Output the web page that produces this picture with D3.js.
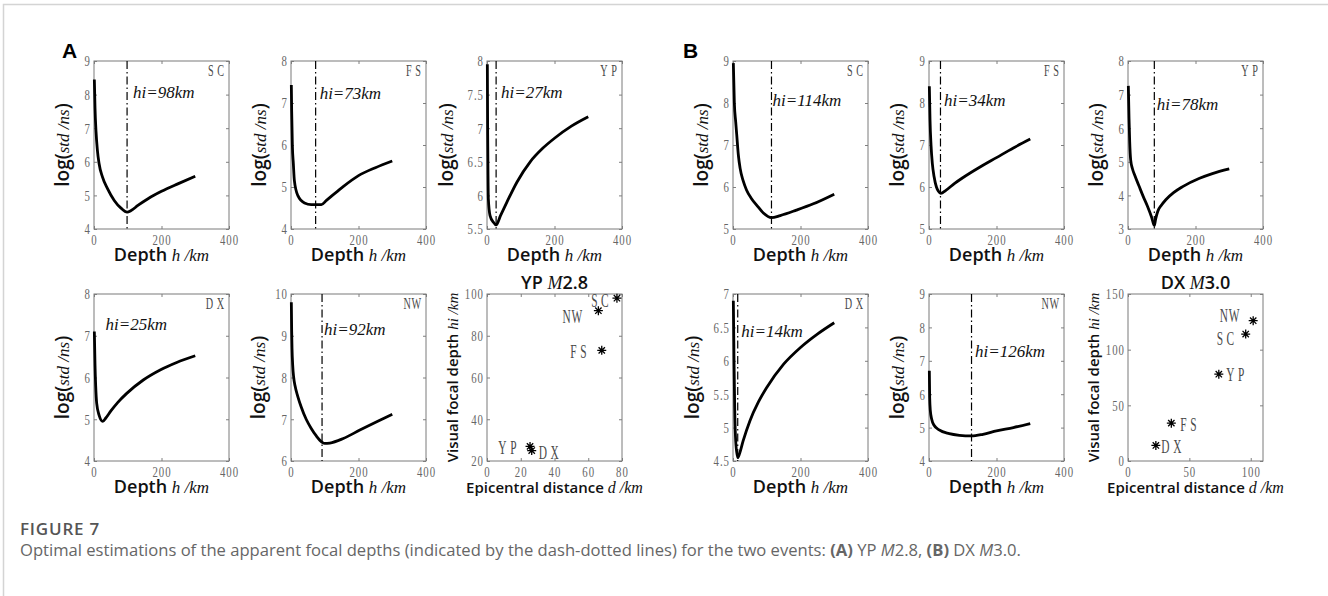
<!DOCTYPE html>
<html>
<head>
<meta charset="utf-8">
<script src="https://cdn.jsdelivr.net/npm/d3@7"></script>
<style>
  body { margin: 0; background: #fff; }
  .axis line { stroke: #808080; }
  .sans { font-family: "Open Sans", sans-serif; font-weight: 600; fill: #111; }
  .ital { font-family: "Liberation Serif", serif; font-style: italic; font-weight: 400; fill: #111; }
  .stn { font-family: "Liberation Serif", serif; fill: #4a4a4a; }
</style>
</head>
<body>
<svg id="fig" width="1328" height="596"></svg>
<script>
// ---- values ----
const stations = ["SC", "FS", "YP", "DX", "NW"];
const depthTicks = [0, 200, 400];

// event A (YP M2.8): log(std/ns) against trial depth h (km)
const depthA_SC = [1, 3, 6, 10, 15, 25, 40, 60, 80, 98, 110, 130, 160, 200, 250, 300];
const logA_SC   = [8.45, 7.6, 6.9, 6.35, 5.95, 5.55, 5.2, 4.85, 4.62, 4.5, 4.55, 4.7, 4.9, 5.12, 5.35, 5.57];
const depthA_FS = [1, 2, 4, 7, 10, 20, 40, 60, 90, 105, 150, 200, 250, 300];
const logA_FS   = [7.43, 6.8, 6.0, 5.55, 5.15, 4.8, 4.62, 4.58, 4.58, 4.68, 4.98, 5.27, 5.46, 5.62];
const depthA_YP = [1, 2, 3, 4, 9, 19, 27, 40, 59, 89, 128, 165, 200, 250, 300];
const logA_YP   = [7.95, 6.9, 6.3, 5.95, 5.7, 5.6, 5.56, 5.7, 5.9, 6.2, 6.5, 6.7, 6.85, 7.03, 7.17];
const depthA_DX = [1, 3, 5, 8, 15, 26, 35, 50, 70, 97, 146, 196, 245, 300];
const logA_DX   = [7.1, 6.3, 5.8, 5.38, 5.1, 4.95, 5.03, 5.2, 5.4, 5.62, 5.94, 6.18, 6.36, 6.52];
const depthA_NW = [1, 2, 3, 5, 8, 12, 20, 30, 45, 60, 75, 92, 100, 115, 155, 204, 254, 300];
const logA_NW   = [9.8, 9.1, 8.7, 8.3, 8.0, 7.8, 7.55, 7.3, 7.0, 6.78, 6.6, 6.45, 6.42, 6.43, 6.54, 6.74, 6.94, 7.12];

const hiA = [98, 73, 27, 25, 92];          // apparent focal depth per station
const distA = [77, 68, 25.5, 26.5, 66];    // epicentral distance per station
const labelDistA = [66.9, 54.2, 12.1, 36.6, 50.6];
const labelHiA = [96.8, 72.5, 26.5, 24.1, 89.4];

// event B (DX M3.0)
const depthB_SC = [1, 4, 8, 11, 16, 21, 30, 40, 55, 70, 90, 114, 140, 188, 238, 300];
const logB_SC   = [8.95, 8.0, 7.55, 7.25, 6.75, 6.45, 6.15, 5.93, 5.72, 5.57, 5.38, 5.27, 5.32, 5.45, 5.6, 5.83];
const depthB_FS = [1, 3, 6, 10, 15, 22, 28, 35, 50, 75, 100, 150, 200, 250, 300];
const logB_FS   = [8.4, 7.6, 7.0, 6.55, 6.25, 6.0, 5.9, 5.85, 5.92, 6.08, 6.22, 6.47, 6.7, 6.93, 7.14];
const depthB_YP = [1, 3, 5, 8, 13, 20, 33, 45, 58, 70, 78, 82, 88, 100, 112, 135, 162, 212, 250, 300];
const logB_YP   = [7.26, 6.3, 5.6, 5.05, 4.8, 4.6, 4.27, 3.97, 3.67, 3.35, 3.1, 3.3, 3.52, 3.72, 3.87, 4.08, 4.26, 4.51, 4.65, 4.79];
const depthB_DX = [1, 3, 5, 8, 14, 20, 30, 50, 75, 100, 150, 200, 250, 300];
const logB_DX   = [6.9, 6.0, 5.3, 4.8, 4.55, 4.62, 4.8, 5.1, 5.38, 5.6, 5.95, 6.2, 6.4, 6.57];
const depthB_NW = [1, 2, 4, 8, 15, 30, 60, 90, 126, 160, 200, 250, 300];
const logB_NW   = [6.7, 5.9, 5.5, 5.25, 5.07, 4.93, 4.82, 4.77, 4.75, 4.8, 4.9, 5.0, 5.12];

const hiB = [114, 34, 78, 14, 126];
const distB = [95.9, 35.3, 74, 22.7, 102];
const labelDistB = [79.4, 49.2, 87.4, 35.3, 82.8];
const labelHiB = [109.8, 33, 77.7, 13.2, 130.4];

// y tick labels of each panel
const yTicksA_SC = [4, 5, 6, 7, 8, 9];
const yTicksA_FS = [4, 5, 6, 7, 8];
const yTicksA_YP = [5.5, 6, 6.5, 7, 7.5, 8];
const yTicksA_DX = [4, 5, 6, 7, 8];
const yTicksA_NW = [6, 7, 8, 9, 10];
const yTicksB_SC = [5, 6, 7, 8, 9];
const yTicksB_FS = [5, 6, 7, 8, 9];
const yTicksB_YP = [3, 4, 5, 6, 7, 8];
const yTicksB_DX = [4.5, 5, 5.5, 6, 6.5, 7];
const yTicksB_NW = [4, 5, 6, 7, 8, 9];

const distTicksA = [0, 20, 40, 60, 80];
const focalTicksA = [20, 40, 60, 80, 100];
const distTicksB = [0, 50, 100];
const focalTicksB = [0, 50, 100, 150];

// ---- layout ----
const svg = d3.select("#fig");
const W = 135;
const SQUEEZE = 0.72;   // the original tick font is a condensed serif

const curvePanels = [
  { left: 94,  top: 61,  h: 168, st: 0, depth: depthA_SC, logv: logA_SC, hi: hiA[0], yt: yTicksA_SC, dx: 6, dy: 37, yl: -25, line: true },
  { left: 291, top: 61,  h: 168, st: 1, depth: depthA_FS, logv: logA_FS, hi: hiA[1], yt: yTicksA_FS, dx: 4, dy: 38, yl: -25, line: true },
  { left: 487, top: 61,  h: 168, st: 2, depth: depthA_YP, logv: logA_YP, hi: hiA[2], yt: yTicksA_YP, dx: 5, dy: 37, yl: -34, line: true },
  { left: 94,  top: 294, h: 167, st: 3, depth: depthA_DX, logv: logA_DX, hi: hiA[3], yt: yTicksA_DX, dx: 3, dy: 36, yl: -25, line: false },
  { left: 291, top: 294, h: 167, st: 4, depth: depthA_NW, logv: logA_NW, hi: hiA[4], yt: yTicksA_NW, dx: 2, dy: 41, yl: -26, line: true },
  { left: 733, top: 61,  h: 168, st: 0, depth: depthB_SC, logv: logB_SC, hi: hiB[0], yt: yTicksB_SC, dx: 1, dy: 45, yl: -25, line: true },
  { left: 929, top: 61,  h: 168, st: 1, depth: depthB_FS, logv: logB_FS, hi: hiB[1], yt: yTicksB_FS, dx: 3.5, dy: 45, yl: -25, line: true },
  { left: 1128, top: 61, h: 168, st: 2, depth: depthB_YP, logv: logB_YP, hi: hiB[2], yt: yTicksB_YP, dx: 2.5, dy: 49, yl: -25, line: true },
  { left: 733, top: 294, h: 167, st: 3, depth: depthB_DX, logv: logB_DX, hi: hiB[3], yt: yTicksB_DX, dx: 3.5, dy: 43, yl: -34, line: true },
  { left: 929, top: 294, h: 167, st: 4, depth: depthB_NW, logv: logB_NW, hi: hiB[4], yt: yTicksB_NW, dx: 3.5, dy: 63, yl: -25, line: true }
];

const scatterPanels = [
  { left: 487, top: 294, h: 167, title: ["YP ", "M", "2.8"], dist: distA, hi: hiA, lx: labelDistA, ly: labelHiA,
    xDomain: [0, 80], yDomain: [20, 100], xt: distTicksA, yt: focalTicksA },
  { left: 1128, top: 294, h: 167, title: ["DX ", "M", "3.0"], dist: distB, hi: hiB, lx: labelDistB, ly: labelHiB,
    xDomain: [0, 110], yDomain: [0, 150], xt: distTicksB, yt: focalTicksB }
];

// tick numbers: grey condensed serif, squeezed about their anchor point
function narrow(sel) {
  sel.each(function () {
    const t = d3.select(this);
    const x0 = +t.attr("x") || 0;
    t.attr("x", x0 / SQUEEZE).attr("transform", `scale(${SQUEEZE},1)`)
      .attr("fill", "#666")
      .style("font-family", "'Liberation Serif', serif")
      .style("font-size", "15px")
      .style("letter-spacing", "1.4px");
  });
}

function drawFrame(g, x, y, w, h, xt, yt) {
  const fmt = d => String(d);
  g.append("g").attr("class", "axis").attr("transform", `translate(0,${h})`)
    .call(d3.axisBottom(x).tickValues(xt).tickSizeInner(-3).tickSizeOuter(0).tickPadding(5).tickFormat(fmt));
  g.append("g").attr("class", "axis")
    .call(d3.axisLeft(y).tickValues(yt).tickSizeInner(-3).tickSizeOuter(0).tickPadding(3).tickFormat(fmt));
  g.append("g").attr("class", "axis")
    .call(d3.axisTop(x).tickValues(xt).tickSizeInner(-3).tickSizeOuter(0).tickFormat(""));
  g.append("g").attr("class", "axis").attr("transform", `translate(${w},0)`)
    .call(d3.axisRight(y).tickValues(yt).tickSizeInner(-3).tickSizeOuter(0).tickFormat(""));
  g.selectAll(".domain").remove();
  narrow(g.selectAll(".tick text"));
  g.append("rect").attr("width", w).attr("height", h)
    .attr("fill", "none").attr("stroke", "#7a7a7a").attr("stroke-width", 1);
}

function addLabel(g, x, y, parts, rotate) {
  const t = g.append("text").attr("text-anchor", "middle");
  if (rotate) t.attr("transform", `translate(${x},${y}) rotate(-90)`);
  else t.attr("x", x).attr("y", y);
  parts.forEach(p => t.append("tspan").attr("class", p[1]).style("font-size", p[2] + "px").text(p[0]));
  return t;
}

// station code drawn narrow and letter-spaced
function stationText(g, x, y, name, size, anchor) {
  return g.append("text").attr("class", "stn")
    .attr("transform", `translate(${x},${y}) scale(0.6,1)`)
    .attr("text-anchor", anchor)
    .style("font-size", size + "px")
    .style("letter-spacing", name === "NW" ? "1px" : "6px")
    .text(name);
}

function drawCurvePanel(p) {
  const x = d3.scaleLinear().domain([0, 400]).range([0, W]);
  const y = d3.scaleLinear().domain(d3.extent(p.yt)).range([p.h, 0]);
  const g = svg.append("g").attr("transform", `translate(${p.left},${p.top})`);

  drawFrame(g, x, y, W, p.h, depthTicks, p.yt);

  if (p.line) {
    g.append("line")
      .attr("x1", x(p.hi)).attr("x2", x(p.hi))
      .attr("y1", 0).attr("y2", p.h)
      .attr("stroke", "#000").attr("stroke-width", 1.2)
      .attr("stroke-dasharray", "8,3,1.5,3");
  }

  const line = d3.line().x(d => x(d[0])).y(d => y(d[1])).curve(d3.curveMonotoneX);
  g.append("path")
    .datum(d3.zip(p.depth, p.logv))
    .attr("d", line)
    .attr("fill", "none").attr("stroke", "#000").attr("stroke-width", 2.8);

  g.append("text").attr("class", "ital")
    .attr("x", x(p.hi) + p.dx).attr("y", p.dy)
    .style("font-size", "17px")
    .text(`hi=${p.hi}km`);

  stationText(g, W - 5 + (stations[p.st] === "NW" ? 0.6 : 3.6), 15, stations[p.st], 17, "end");

  addLabel(g, W / 2, p.h + 32, [["Depth ", "sans", 18], ["h /km", "ital", 17]]);
  addLabel(g, p.yl, p.h / 2, [["log(", "sans", 19], ["std /ns", "ital", 17], [")", "sans", 19]], true);
}

// MATLAB-like '*' marker: plus and cross together
const starSymbol = {
  draw(ctx, size) {
    const r = Math.sqrt(size) / 2, q = r * 0.7071;
    ctx.moveTo(-r, 0); ctx.lineTo(r, 0);
    ctx.moveTo(0, -r); ctx.lineTo(0, r);
    ctx.moveTo(-q, -q); ctx.lineTo(q, q);
    ctx.moveTo(-q, q); ctx.lineTo(q, -q);
  }
};

function drawScatterPanel(p) {
  const x = d3.scaleLinear().domain(p.xDomain).range([0, W]);
  const y = d3.scaleLinear().domain(p.yDomain).range([p.h, 0]);
  const g = svg.append("g").attr("transform", `translate(${p.left},${p.top})`);

  drawFrame(g, x, y, W, p.h, p.xt, p.yt);

  g.selectAll("path.star")
    .data(stations.map((s, i) => ({ d: p.dist[i], hi: p.hi[i] })))
    .join("path")
    .attr("class", "star")
    .attr("transform", d => `translate(${x(d.d)},${y(d.hi)})`)
    .attr("d", d3.symbol(starSymbol, 81))
    .attr("stroke", "#000").attr("stroke-width", 1.3).attr("fill", "none");

  stations.forEach((s, i) => {
    stationText(g, x(p.lx[i]) + (s === "NW" ? 0.3 : 1.8), y(p.ly[i]) + 6.5, s, 19, "middle");
  });

  addLabel(g, W / 2, -5, [[p.title[0], "sans", 18], [p.title[1], "ital", 18], [p.title[2], "sans", 18]]);
  addLabel(g, W / 2, p.h + 32, [["Epicentral distance ", "sans", 15], ["d /km", "ital", 16]]);
  addLabel(g, -29, p.h / 2, [["Visual focal depth ", "sans", 15], ["hi /km", "ital", 15]], true);
}

// light figure frame
svg.append("path").attr("d", "M3.5,596 V4.5 H1328")
  .attr("fill", "none").attr("stroke", "#d4d4d4").attr("stroke-width", 1.5);

curvePanels.forEach(drawCurvePanel);
scatterPanels.forEach(drawScatterPanel);

// panel letters
svg.append("text").attr("x", 62).attr("y", 58).style("font-family", "'Liberation Sans', Arial, sans-serif")
  .style("font-weight", 700).style("font-size", "21px").text("A");
svg.append("text").attr("x", 683).attr("y", 58).style("font-family", "'Liberation Sans', Arial, sans-serif")
  .style("font-weight", 700).style("font-size", "21px").text("B");

// caption
svg.append("text").attr("x", 20).attr("y", 535)
  .style("font-family", "'Open Sans', sans-serif").style("font-weight", 600)
  .style("font-size", "17px").style("letter-spacing", "0.8px").attr("fill", "#555").text("FIGURE 7");
const cap = svg.append("text").attr("x", 20).attr("y", 556)
  .style("font-family", "'Open Sans', sans-serif").style("font-size", "16.6px").attr("fill", "#666");
cap.append("tspan").text("Optimal estimations of the apparent focal depths (indicated by the dash-dotted lines) for the two events: ");
cap.append("tspan").style("font-weight", 700).text("(A)");
cap.append("tspan").text(" YP ");
cap.append("tspan").style("font-style", "italic").text("M");
cap.append("tspan").text("2.8, ");
cap.append("tspan").style("font-weight", 700).text("(B)");
cap.append("tspan").text(" DX ");
cap.append("tspan").style("font-style", "italic").text("M");
cap.append("tspan").text("3.0.");
</script>
</body>
</html>
